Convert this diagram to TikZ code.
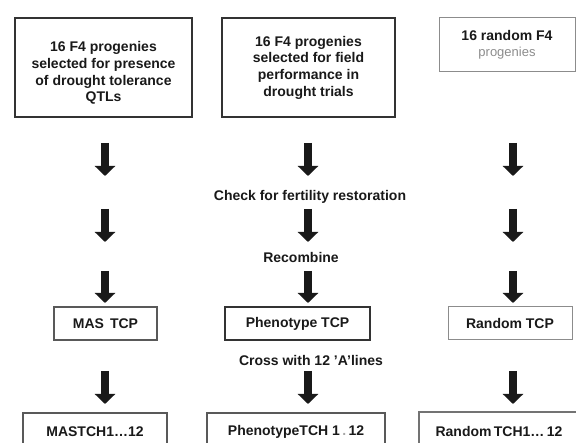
\documentclass[tikz,border=0pt]{standalone}
\usepackage{fontspec}
\setmainfont{Liberation Sans}
\usetikzlibrary{arrows.meta}
\tikzset{
  box/.style={draw, rectangle, inner sep=2pt, align=center,
    font=\fontsize{14}{16.7}\selectfont\bfseries, text=black!90},
  heavy/.style={box, draw=black!80, line width=2pt},
  medium/.style={box, draw=black!65, line width=1.5pt},
  light/.style={box, draw=black!45, line width=1pt},
  lbl/.style={font=\fontsize{14}{16.7}\selectfont\bfseries, text=black!90, inner sep=1pt},
  blockarrow/.style={draw=black!90, line width=8.5pt, -{Triangle[width=20pt,length=10pt]}}
}
\begin{document}
\begin{tikzpicture}[x=1pt,y=-1pt]
\useasboundingbox (0,0) rectangle (576,443);
% top row
\node[heavy, minimum width=177pt, minimum height=99pt,
  label={[lbl, align=center, yshift=-5.5pt]center:{16 F4 progenies\\selected for presence\\of drought tolerance\\QTLs}}]
  (b1) at (103.5,67.5) {};
\node[heavy, minimum width=173pt, minimum height=99pt] (b2) at (308.5,67.5)
  {16 F4 progenies\\selected for field\\performance in\\drought trials};
\node[light, minimum width=136pt, minimum height=54pt] (b3) at (507,45)
  {16 random F4\\[-1pt]{\mdseries\color{black!45}\fontsize{13}{15}\selectfont progenies}};
% middle row
\node[medium, minimum width=103pt, minimum height=33pt] (m1) at (105.5,323.5) {MAS\hspace{6pt}TCP};
\node[heavy, minimum width=145pt, minimum height=33pt] (m2) at (297.5,323.5) {Phenotype TCP};
\node[light, minimum width=124pt, minimum height=33pt] (m3) at (510,323.5) {Random TCP};
% bottom row
\node[medium, minimum width=144pt, minimum height=38pt] (t1) at (95,432) {MASTCH1…12};
\node[medium, minimum width=178pt, minimum height=38pt] (t2) at (296,432)
  {PhenotypeTCH 1\,{\color{black!35}.}\,12};
\node[medium, draw=black!55, minimum width=160pt, minimum height=38pt] (t3) at (499,431)
  {Random\,TCH1…\,12};
% labels
\node[lbl] (l1) at (310,197) {Check for fertility restoration};
\node[lbl] (l2) at (301,257) {Recombine};
\node[lbl] (l3) at (311,360) {Cross with 12 'A'lines};
% arrow coordinates
\foreach \c/\x in {L/105, M/308, R/513}{
  \coordinate (\c s1) at (\x,143); \coordinate (\c e1) at (\x,176);
  \coordinate (\c s2) at (\x,209); \coordinate (\c e2) at (\x,242);
  \coordinate (\c s3) at (\x,271); \coordinate (\c e3) at (\x,303);
  \coordinate (\c s4) at (\x,371); \coordinate (\c e4) at (\x,404);
}
\foreach \c in {L,M,R}{
  \foreach \i in {1,2,3,4}{
    \draw[blockarrow] (\c s\i) -- (\c e\i);
  }
}
\end{tikzpicture}
\end{document}
